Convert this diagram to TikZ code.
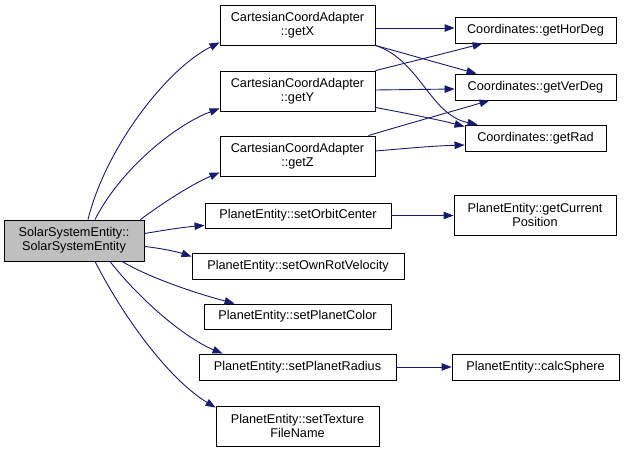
\documentclass[tikz,border=0pt]{standalone}
\usepackage{fontspec}
\setmainfont{Liberation Sans}
\usetikzlibrary{arrows.meta}
\definecolor{edgeblue}{HTML}{191970}
\definecolor{mainfill}{HTML}{BFBFBF}
\begin{document}
\begin{tikzpicture}[x=1pt,y=1pt,
  fn/.style={draw=black, line width=0.9pt, fill=white, inner sep=0pt,
    align=center, font=\fontsize{12.7}{14}\selectfont},
  call/.style={draw=edgeblue, line width=0.9pt,
    -{Triangle[length=10pt,width=7.5pt]}}]
\useasboundingbox (0,0) rectangle (624,-452);

% caller
\node[fn, fill=mainfill, minimum width=140pt, minimum height=41pt] (main) at (74,-240.5)
  {SolarSystemEntity::\\SolarSystemEntity};

% callees
\node[fn, minimum width=155pt, minimum height=40pt] (getX) at (297.5,-25)
  {CartesianCoordAdapter\\::getX};
\node[fn, minimum width=155pt, minimum height=40pt] (getY) at (297.5,-91)
  {CartesianCoordAdapter\\::getY};
\node[fn, minimum width=155pt, minimum height=40pt] (getZ) at (297.5,-156)
  {CartesianCoordAdapter\\::getZ};
\node[fn, minimum width=161pt, minimum height=26pt] (hor) at (535.5,-30)
  {Coordinates::getHorDeg};
\node[fn, minimum width=161pt, minimum height=26pt] (ver) at (535.5,-87)
  {Coordinates::getVerDeg};
\node[fn, minimum width=141pt, minimum height=26pt] (rad) at (535.5,-138)
  {Coordinates::getRad};
\node[fn, minimum width=186pt, minimum height=25pt] (orbit) at (298,-215.5)
  {PlanetEntity::setOrbitCenter};
\node[fn, minimum width=162pt, minimum height=40pt] (curpos) at (535,-215)
  {PlanetEntity::getCurrent\\Position};
\node[fn, minimum width=212pt, minimum height=26pt] (rotvel) at (298,-266)
  {PlanetEntity::setOwnRotVelocity};
\node[fn, minimum width=187pt, minimum height=25pt] (color) at (297.5,-316.5)
  {PlanetEntity::setPlanetColor};
\node[fn, minimum width=197pt, minimum height=26pt] (radius) at (297.5,-367)
  {PlanetEntity::setPlanetRadius};
\node[fn, minimum width=167pt, minimum height=26pt] (sphere) at (535.5,-367)
  {PlanetEntity::calcSphere};
\node[fn, minimum width=163pt, minimum height=40pt] (texture) at (297.5,-426)
  {PlanetEntity::setTexture\\FileName};

% calls from the constructor
\draw[call] ([xshift=14pt]main.north) .. controls (105,-150) and (165,-70) .. ([yshift=3pt]getX.south west);
\draw[call] ([xshift=21pt]main.north) .. controls (120,-170) and (175,-125) .. ([yshift=3pt]getY.south west);
\draw[call] ([xshift=-4pt]main.north east) .. controls (160,-205) and (190,-185) .. ([yshift=4pt]getZ.south west);
\draw[call] ([yshift=-14pt]main.north east) .. controls (165,-230) and (185,-227) .. ([yshift=3pt]orbit.south west);
\draw[call] ([yshift=-6pt]main.east) .. controls (160,-248) and (178,-252) .. ([yshift=-4pt]rotvel.north west);
\draw[call] ([xshift=48pt]main.south) .. controls (150,-278) and (195,-293) .. ([xshift=31pt]color.north west);
\draw[call] ([xshift=36pt]main.south) .. controls (140,-300) and (185,-338) .. ([xshift=24pt]radius.north west);
\draw[call] ([xshift=21pt]main.south) .. controls (125,-320) and (170,-380) .. ([yshift=-2pt]texture.north west);

% calls from the coordinate adapters
\draw[call] ([yshift=-3pt]getX.east) -- ([yshift=2pt]hor.west);
\draw[call] (getX.south east) .. controls (410,-55) and (445,-65) .. ([xshift=22pt]ver.north west);
\draw[call] (getX.south east) .. controls (420,-60) and (430,-115) .. ([xshift=13pt]rad.north west);
\draw[call] (getY.north east) .. controls (410,-62) and (450,-52) .. ([xshift=28pt]hor.south west);
\draw[call] ([yshift=1pt]getY.east) -- ([yshift=-2pt]ver.west);
\draw[call] ([yshift=4pt]getY.south east) .. controls (400,-112) and (440,-120) .. ([yshift=-2pt]rad.north west);
\draw[call] ([xshift=-7pt]getZ.north east) .. controls (400,-126) and (450,-112) .. ([xshift=35pt]ver.south west);
\draw[call] ([yshift=5pt]getZ.east) .. controls (400,-149) and (430,-146) .. ([yshift=-7pt]rad.west);

% calls from the planet setters
\draw[call] (orbit.east) -- ([yshift=-0.5pt]curpos.west);
\draw[call] (radius.east) -- (sphere.west);
\end{tikzpicture}
\end{document}
